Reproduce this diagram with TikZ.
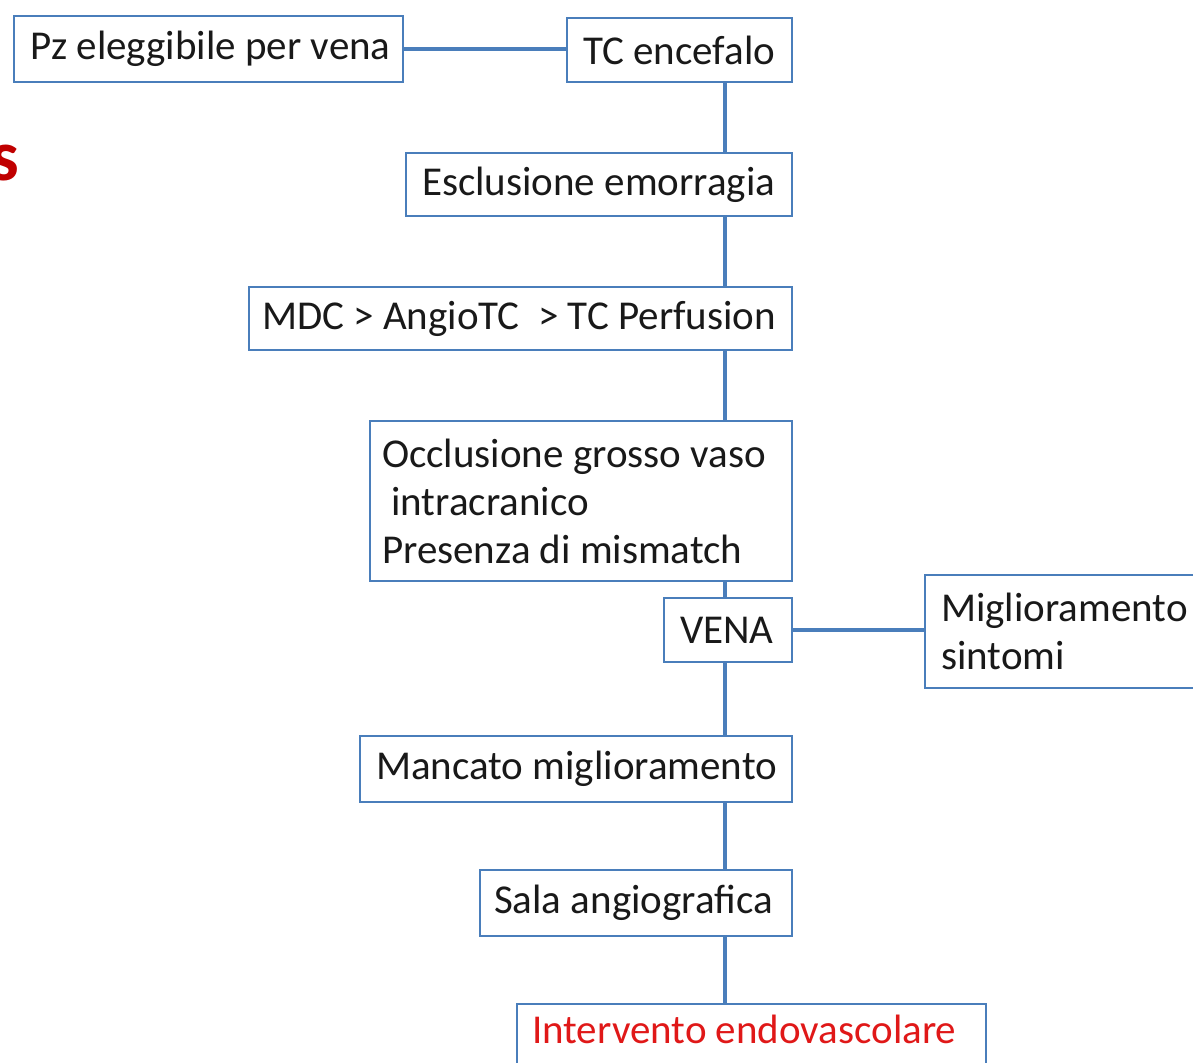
\documentclass[tikz,border=0pt]{standalone}
\usepackage{fontspec}
\setmainfont{Carlito}
\definecolor{flowblue}{HTML}{4A7EBB}
\definecolor{titlered}{HTML}{C00000}
\definecolor{stepred}{HTML}{E01818}
\tikzset{
  flowbox/.style={draw=flowblue, line width=2.2pt, fill=white, anchor=north west,
    inner xsep=16pt, inner ysep=0pt, align=left, text=black!90,
    font=\fontsize{41}{48}\selectfont,
    execute at begin node={\spaceskip=0pt\xspaceskip=0pt\relax}},
  link/.style={draw=flowblue, line width=4pt}
}
\begin{document}
\begin{tikzpicture}[x=1pt,y=-1pt]
\useasboundingbox (0,0) rectangle (1193,1062);
\coordinate (spine) at (725,0);

% partial title letter at the left margin
\node[anchor=base east, inner sep=0pt, text=titlered,
  font=\fontsize{72}{72}\selectfont\bfseries] (title) at (19,180) {s};

\node[flowbox, minimum width=389pt, minimum height=66pt, text width=357pt] (pz) at (13,15)
  {\mbox{Pz eleggibile per vena}};
\node[flowbox, minimum width=225pt, minimum height=64pt, text width=193pt] (tc) at (566,17)
  {\mbox{TC encefalo}};
\node[flowbox, minimum width=386pt, minimum height=63pt, text width=354pt] (escl) at (405,152)
  {\mbox{Esclusione emorragia}};
\node[flowbox, minimum width=543pt, minimum height=63pt, inner xsep=13pt, text width=517pt] (mdc) at (248,286)
  {\mbox{MDC > AngioTC \ > TC Perfusion}};
\node[flowbox, minimum width=422pt, minimum height=160pt, inner xsep=12pt, text width=398pt] (occl) at (369,420)
  {\mbox{Occlusione grosso vaso}\\\mbox{\ intracranico}\\\mbox{Presenza di mismatch}};
\node[flowbox, minimum width=128pt, minimum height=64pt, text width=96pt] (vena) at (663,597)
  {\mbox{VENA}};
\node[flowbox, minimum width=290pt, minimum height=113pt, text width=258pt] (migl) at (924,574)
  {\mbox{Miglioramento}\\\mbox{sintomi}};
\node[flowbox, minimum width=432pt, minimum height=66pt, text width=400pt] (manc) at (359,735)
  {\mbox{Mancato miglioramento}};
\node[flowbox, minimum width=312pt, minimum height=66pt, inner xsep=14pt, text width=284pt] (sala) at (479,869)
  {\mbox{Sala angiografica}};
\node[flowbox, minimum width=469pt, minimum height=90pt] (endo) at (516,1003) {};
\node[anchor=base west, inner sep=0pt, text=stepred,
  font=\fontsize{41}{48}\selectfont] (endotxt) at ([xshift=16pt]endo.north west |- 0,1043)
  {Intervento endovascolare};

% connectors
\draw[link] (pz.east) -- (tc.west |- pz.east);
\draw[link] (tc.south -| spine) -- (escl.north -| spine);
\draw[link] (escl.south -| spine) -- (mdc.north -| spine);
\draw[link] (mdc.south -| spine) -- (occl.north -| spine);
\draw[link] (occl.south -| spine) -- (vena.north -| spine);
\draw[link] (vena.east) -- (migl.west |- vena.east);
\draw[link] (vena.south -| spine) -- (manc.north -| spine);
\draw[link] (manc.south -| spine) -- (sala.north -| spine);
\draw[link] (sala.south -| spine) -- (endo.north -| spine);
\end{tikzpicture}
\end{document}
